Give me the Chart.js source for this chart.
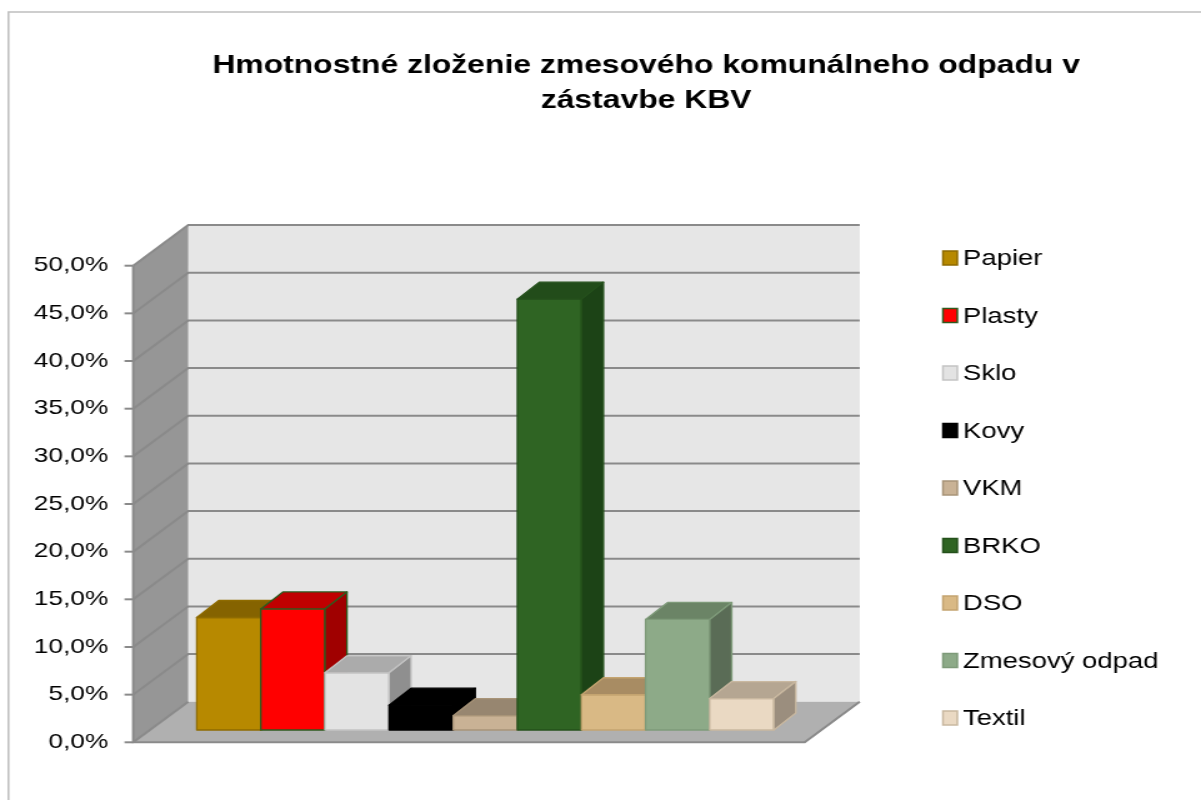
<!DOCTYPE html>
<html>
<head>
<meta charset="utf-8">
<script src="https://cdn.jsdelivr.net/npm/chart.js@4.4.1/dist/chart.umd.min.js"></script>
<style>
  html, body { margin: 0; padding: 0; background: #fff; overflow: hidden; }
</style>
</head>
<body>
<!-- plátno je užšie a roztiahnuté cez CSS, ako na pôvodnom obrázku -->
<canvas id="graf-odpad" width="961" height="800" style="display:block;width:1201px;height:800px"></canvas>
<script>
// údaje
const kategorie = ['Papier', 'Plasty', 'Sklo', 'Kovy', 'VKM', 'BRKO', 'DSO', 'Zmesový odpad', 'Textil'];
const podiel = [11.8, 12.7, 6.0, 2.6, 1.5, 45.2, 3.7, 11.6, 3.3];
const osMin = 0;
const osMax = 50;
const osKrok = 5;
const nadpis = ['Hmotnostné zloženie zmesového komunálneho odpadu v', 'zástavbe KBV'];

// farby stĺpcov: predná stena, vrch, bok, okraj
const farbyPredok = ['#b78900', '#ff0000', '#e3e3e3', '#000000', '#c9b295', '#2f6423', '#d9b985', '#8daa88', '#ead9c3'];
const farbyVrch = ['#856300', '#c00000', '#ababab', '#000000', '#978670', '#224c1a', '#a88c63', '#6b8466', '#b5a692'];
const farbyBok = ['#6e5200', '#a00000', '#8f8f8f', '#000000', '#7f705e', '#1c4316', '#8e7552', '#5a6c56', '#9b8e7e'];
const farbyOkraj = ['#8f6b00', '#2e5a1e', '#c4c4c4', '#000000', '#a89478', '#24501b', '#c4a470', '#7e9a79', '#c9b8a0'];

function mnohouholnik(ctx, body, vypln, ciara) {
    ctx.beginPath();
    ctx.moveTo(body[0][0], body[0][1]);
    for (let i = 1; i < body.length; i++) ctx.lineTo(body[i][0], body[i][1]);
    ctx.closePath();
    ctx.fillStyle = vypln;
    ctx.fill();
    if (ciara) {
        ctx.strokeStyle = ciara;
        ctx.stroke();
    }
}

// 3D steny, podlaha a stĺpce
const priestor3d = {
    id: 'priestor3d',
    beforeDatasetsDraw(chart) {
        const ctx = chart.ctx;
        const a = chart.chartArea;
        const y = chart.scales.y;
        const L = a.left - 37.5, R = a.right + 38;
        const hx = 44, hy = -40.6;
        const y0 = y.getPixelForValue(osMin), yT = y.getPixelForValue(osMax);

        ctx.save();
        // zadná stena
        ctx.fillStyle = '#e6e6e6';
        ctx.fillRect(L + hx, yT + hy, R - L, y0 - yT);
        // ľavá stena
        mnohouholnik(ctx, [[L, yT], [L + hx, yT + hy], [L + hx, y0 + hy], [L, y0]], '#969696');
        // podlaha
        mnohouholnik(ctx, [[L, y0], [R, y0], [R + hx, y0 + hy], [L + hx, y0 + hy]], '#b0b0b0');

        // mriežka a značky osi
        ctx.lineWidth = 2;
        y.ticks.forEach(t => {
            const py = y.getPixelForValue(t.value);
            ctx.strokeStyle = '#8a8a8a';
            ctx.beginPath();
            ctx.moveTo(L, py);
            ctx.lineTo(L + hx, py + hy);
            if (t.value > osMin) ctx.lineTo(R + hx, py + hy);
            ctx.stroke();
            ctx.beginPath();
            ctx.moveTo(L - 7, py);
            ctx.lineTo(L, py);
            ctx.stroke();
        });
        // hrany
        ctx.strokeStyle = '#8a8a8a';
        ctx.beginPath();
        ctx.moveTo(L, yT);
        ctx.lineTo(L, y0);
        ctx.lineTo(R, y0);
        ctx.lineTo(R + hx, y0 + hy);
        ctx.stroke();

        // stĺpce
        const bx = 13.3, by = -12.3, dx = 17.6, dy = -17;
        ctx.lineWidth = 1.3;
        ctx.lineJoin = 'round';
        chart.getDatasetMeta(0).data.forEach((el, i) => {
            const l = el.x - el.width / 2 + bx, r = el.x + el.width / 2 + bx;
            const t = el.y + by, b = el.base + by;
            mnohouholnik(ctx, [[l, t], [r, t], [r, b], [l, b]], farbyPredok[i], farbyOkraj[i]);
            mnohouholnik(ctx, [[l, t], [l + dx, t + dy], [r + dx, t + dy], [r, t]], farbyVrch[i], farbyOkraj[i]);
            mnohouholnik(ctx, [[r, t], [r + dx, t + dy], [r + dx, b + dy], [r, b]], farbyBok[i], farbyOkraj[i]);
        });
        ctx.restore();
        return false;
    },
    afterDraw(chart) {
        const ctx = chart.ctx;
        const a = chart.chartArea;
        ctx.save();
        // rámik
        ctx.strokeStyle = '#bfbfbf';
        ctx.lineWidth = 1.5;
        ctx.beginPath();
        ctx.moveTo(6.8, 800);
        ctx.lineTo(6.8, 12);
        ctx.lineTo(961, 12);
        ctx.stroke();

        // nadpis
        ctx.fillStyle = '#000';
        ctx.textAlign = 'center';
        ctx.textBaseline = 'middle';
        ctx.font = 'bold 25.5px "Liberation Sans", Arial, sans-serif';
        nadpis.forEach((riadok, i) => ctx.fillText(riadok, 517, 66 + i * 35));

        // legenda
        ctx.textAlign = 'left';
        ctx.font = '22px "Liberation Sans", Arial, sans-serif';
        ctx.lineWidth = 1.5;
        const lx = a.right + 148.6;
        kategorie.forEach((k, i) => {
            const cy = 258 + i * 57.5;
            ctx.fillStyle = farbyPredok[i];
            ctx.fillRect(lx, cy - 7, 11.5, 14);
            ctx.strokeStyle = farbyOkraj[i];
            ctx.strokeRect(lx, cy - 7, 11.5, 14);
            ctx.fillStyle = '#000';
            ctx.fillText(k, lx + 16, cy + 1);
        });
        ctx.restore();
    }
};

const ctxGraf = document.getElementById('graf-odpad').getContext('2d');
const grafOdpad = new Chart(ctxGraf, {
    type: 'bar',
    data: {
        labels: kategorie,
        datasets: [{
            label: 'Podiel',
            data: podiel,
            backgroundColor: farbyPredok,
            borderColor: farbyOkraj,
            barPercentage: 1,
            categoryPercentage: 1
        }]
    },
    options: {
        responsive: false,
        animation: false,
        devicePixelRatio: 1,
        layout: {
            padding: { top: 265.7, bottom: 57.7, left: 0, right: 355.1 }
        },
        plugins: {
            legend: { display: false },
            title: { display: false },
            tooltip: { enabled: false }
        },
        scales: {
            x: {
                display: false,
                offset: true
            },
            y: {
                min: osMin,
                max: osMax,
                afterFit: (scale) => { scale.width = 144.1; },
                grid: { display: false, drawTicks: true, tickLength: 55.5 },
                border: { display: false },
                ticks: {
                    stepSize: osKrok,
                    padding: 2,
                    color: '#000',
                    font: { family: '"Liberation Sans", Arial, sans-serif', size: 21 },
                    callback: (v) => v.toFixed(1).replace('.', ',') + '%'
                }
            }
        }
    },
    plugins: [priestor3d]
});
</script>
</body>
</html>
